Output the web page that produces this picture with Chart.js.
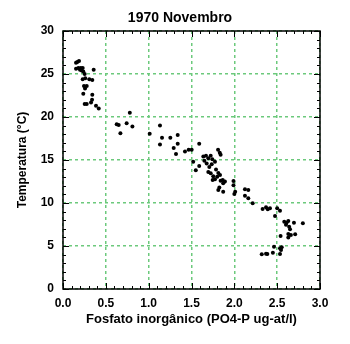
<!DOCTYPE html>
<html>
<head>
<meta charset="utf-8">
<script src="https://cdn.jsdelivr.net/npm/chart.js@4"></script>
<style>
  html, body { margin: 0; padding: 0; background: #fff; }
  #wrap { width: 350px; height: 344px; }
</style>
</head>
<body>
<div id="wrap"><canvas id="fosfatoChart" width="350" height="344"></canvas></div>
<script>
// readings
const chartTitle = '1970 Novembro';
const xLabel = 'Fosfato inorgânico (PO4-P ug-at/l)';
const yLabel = 'Temperatura (°C)';

const fosfato = [
  0.167, 0.187, 0.152, 0.152, 0.179, 0.207, 0.23, 0.198, 0.218, 0.237,
  0.253, 0.358, 0.23, 0.26, 0.307, 0.342, 0.245, 0.277, 0.257, 0.237,
  0.342, 0.339, 0.327, 0.253, 0.277, 0.385, 0.417, 0.78, 0.627, 0.65,
  0.743, 0.81, 0.67, 1.132, 1.012, 1.156, 1.253, 1.339, 1.132, 1.339,
  1.292, 1.319, 1.424, 1.467, 1.502, 1.59, 1.81, 1.83, 1.52, 1.55,
  1.59, 1.638, 1.669, 1.65, 1.696, 1.724, 1.743, 1.774, 1.84, 1.677,
  1.708, 1.736, 1.696, 1.724, 1.754, 1.774, 1.747, 1.786, 1.813, 1.8,
  1.833, 1.84, 1.864, 1.89, 1.87, 1.825, 1.813, 1.87, 1.99, 1.99,
  2.01, 2.0, 2.124, 2.163, 2.124, 2.163, 2.214, 2.33, 2.37, 2.39,
  2.416, 2.5, 2.533, 2.475, 2.583, 2.61, 2.63, 2.603, 2.696, 2.80,
  2.64, 2.65, 2.54, 2.63, 2.66, 2.71, 2.63, 2.463, 2.533, 2.553,
  2.545, 2.533, 2.32, 2.37, 2.385, 2.45
];
const temperatura = [
  26.4, 26.5, 26.3, 25.6, 25.7, 25.7, 25.7, 25.5, 25.4, 25.3,
  25.0, 25.5, 24.4, 24.5, 24.4, 24.3, 23.6, 23.6, 23.3, 22.7,
  22.6, 22.0, 21.7, 21.5, 21.5, 21.3, 21.0, 20.5, 19.15, 19.07,
  19.27, 18.9, 18.1, 19.0, 18.06, 17.6, 17.6, 17.9, 16.8, 16.9,
  16.4, 15.7, 16.0, 16.2, 16.2, 16.9, 16.2, 15.85, 14.8, 13.8,
  14.3, 15.4, 15.5, 14.9, 15.2, 15.5, 15.1, 14.8, 15.6, 14.6,
  14.2, 14.5, 13.6, 13.45, 13.1, 12.75, 12.67, 13.9, 13.5, 13.05,
  13.26, 12.6, 12.67, 12.5, 12.3, 11.8, 11.5, 11.3, 12.56, 12.06,
  11.3, 11.05, 11.6, 11.5, 10.85, 10.55, 9.96, 9.3, 9.5, 9.27,
  9.38, 9.38, 9.1, 8.49, 7.83, 7.7, 7.9, 7.48, 7.7, 7.64,
  7.24, 6.94, 6.16, 6.4, 6.28, 6.36, 6.0, 4.92, 4.73, 4.85,
  4.53, 4.07, 4.03, 4.1, 4.07, 4.22
];

const FONT = 'Liberation Sans, Arial, sans-serif';
const gridGreen = '#6cc97c';

var points = fosfato.map((x, i) => ({ x: x, y: temperatura[i] }));

// title drawn by hand so it can sit where the original had it
const titlePlugin = {
  id: 'titleText',
  afterDraw(chart) {
    const ctx = chart.ctx;
    ctx.save();
    ctx.font = 'bold 14px ' + FONT;
    ctx.fillStyle = '#000';
    ctx.textAlign = 'center';
    ctx.textBaseline = 'middle';
    ctx.fillText(chartTitle, 180, 18);
    ctx.restore();
  }
};

// frame + inward tick marks on all four sides
const frameTicks = {
  id: 'frameTicks',
  afterDraw(chart) {
    const ctx = chart.ctx, a = chart.chartArea;
    const xs = chart.scales.x, ys = chart.scales.y;
    ctx.save();
    ctx.strokeStyle = '#000';
    ctx.lineWidth = 1;
    ctx.beginPath();
    for (let i = 0; i <= 30; i++) {
      const v = i / 10;
      const px = Math.round(xs.getPixelForValue(v)) + 0.5;
      const len = i % 5 == 0 ? 6 : 3;
      ctx.moveTo(px, a.bottom); ctx.lineTo(px, a.bottom - len);
      ctx.moveTo(px, a.top); ctx.lineTo(px, a.top + len);
    }
    for (let j = 0; j <= 30; j++) {
      const py = Math.round(ys.getPixelForValue(j)) + 0.5;
      const len = j % 5 == 0 ? 6 : 3;
      ctx.moveTo(a.left, py); ctx.lineTo(a.left + len, py);
      ctx.moveTo(a.right, py); ctx.lineTo(a.right - len, py);
    }
    ctx.stroke();
    ctx.lineWidth = 1.5;
    ctx.strokeRect(a.left, a.top, a.right - a.left, a.bottom - a.top);
    ctx.restore();
  }
};

Chart.defaults.font.family = FONT;
Chart.defaults.color = '#000';

new Chart('fosfatoChart', {
  type: 'scatter',
  data: {
    datasets: [{
      data: points,
      backgroundColor: '#000',
      borderColor: '#000',
      pointRadius: 2,
      pointBorderWidth: 0
    }]
  },
  options: {
    responsive: false,
    animation: false,
    layout: { padding: { left: 0, right: 30, top: 31, bottom: 0 } },
    plugins: {
      legend: { display: false },
      tooltip: { enabled: false },
      title: { display: false }
    },
    scales: {
      x: {
        type: 'linear',
        min: 0, max: 3,
        afterFit: s => { s.height = 55; },
        ticks: {
          stepSize: 0.5,
          padding: 7,
          font: { size: 12, weight: 'bold' },
          callback: v => v.toFixed(1)
        },
        grid: {
          drawTicks: false,
          color: gridGreen,
          lineWidth: 1.5
        },
        border: { display: false, dash: [3, 3] },
        title: {
          display: true,
          text: xLabel,
          font: { size: 13, weight: 'bold' },
          padding: { top: 0, bottom: 17 }
        }
      },
      y: {
        type: 'linear',
        min: 0, max: 30,
        afterFit: s => { s.width = 63; },
        ticks: {
          stepSize: 5,
          padding: 9,
          font: { size: 12, weight: 'bold' }
        },
        grid: {
          drawTicks: false,
          color: gridGreen,
          lineWidth: 1.5
        },
        border: { display: false, dash: [3, 3] },
        title: {
          display: true,
          text: yLabel,
          font: { size: 12, weight: 'bold' },
          padding: { top: 15, bottom: 0 }
        }
      }
    }
  },
  plugins: [titlePlugin, frameTicks]
});
</script>
</body>
</html>
